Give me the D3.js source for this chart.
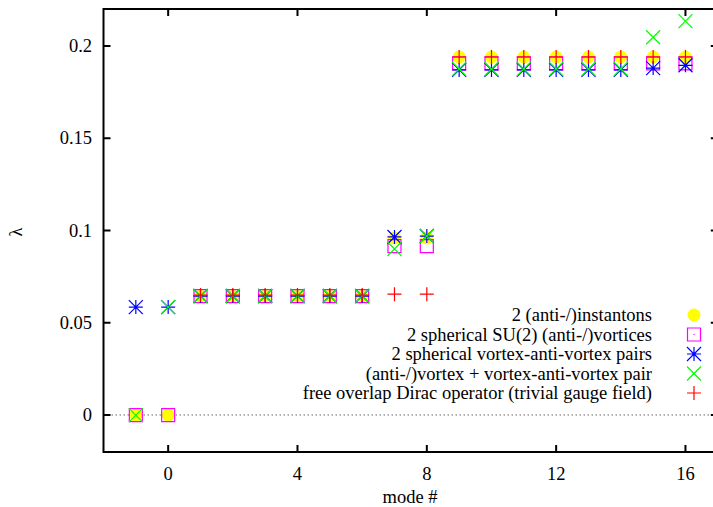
<!DOCTYPE html>
<html>
<head>
<meta charset="utf-8">
<script src="https://cdn.jsdelivr.net/npm/d3@7"></script>
<style>
  body { margin: 0; background: #fff; }
  svg text { font-family: "Liberation Serif", "DejaVu Serif", serif; font-size: 18.5px; fill: #000; }
</style>
</head>
<body>
<div id="chart"></div>
<script>
// mode numbers and lowest eigenvalues for each configuration
const modes = [-1, 0, 1, 2, 3, 4, 5, 6, 7, 8, 9, 10, 11, 12, 13, 14, 15, 16]
const freeModes = [1, 2, 3, 4, 5, 6, 7, 8, 9, 10, 11, 12, 13, 14, 15, 16]

const instantons = [0, 0, 0.0645, 0.0645, 0.0645, 0.0645, 0.0645, 0.0645, 0.096, 0.096,
  0.194, 0.194, 0.194, 0.194, 0.194, 0.194, 0.194, 0.194]
const sphericalVortices = [0, 0, 0.0645, 0.0645, 0.0645, 0.0645, 0.0645, 0.0645, 0.0915, 0.0915,
  0.1905, 0.1905, 0.1905, 0.1905, 0.1905, 0.1905, 0.1905, 0.1905]
const vortexPairs = [0.0585, 0.0585, 0.0645, 0.0645, 0.0645, 0.0645, 0.0645, 0.0645, 0.0965, 0.097,
  0.187, 0.187, 0.187, 0.187, 0.187, 0.187, 0.188, 0.1895]
const vortexPlusPair = [0, 0.0585, 0.0645, 0.0645, 0.0645, 0.0645, 0.0645, 0.0645, 0.090, 0.097,
  0.1875, 0.1875, 0.1875, 0.1875, 0.1875, 0.1875, 0.2047, 0.2134]
const freeOverlap = [0.065, 0.065, 0.065, 0.065, 0.065, 0.065, 0.0655, 0.0655,
  0.194, 0.194, 0.194, 0.194, 0.194, 0.194, 0.194, 0.194]

const xTicks = [0, 4, 8, 12, 16]
const yTicks = [0, 0.05, 0.1, 0.15, 0.2]

const series = [
  { label: "2 (anti-/)instantons", xs: modes, ys: instantons, shape: "circle", color: "#ffff00" },
  { label: "2 spherical SU(2) (anti-/)vortices", xs: modes, ys: sphericalVortices, shape: "square", color: "#ff00ff" },
  { label: "2 spherical vortex-anti-vortex pairs", xs: modes, ys: vortexPairs, shape: "star", color: "#0000ff" },
  { label: "(anti-/)vortex + vortex-anti-vortex pair", xs: modes, ys: vortexPlusPair, shape: "cross", color: "#00ff00" },
  { label: "free overlap Dirac operator (trivial gauge field)", xs: freeModes, ys: freeOverlap, shape: "plus", color: "#ff0000" },
]

const width = 713
const height = 507
const plotLeft = 103.5
const plotRight = 717.8
const plotTop = 9
const plotBottom = 452

const svg = d3.select("#chart")
  .append("svg")
  .attr("width", width)
  .attr("height", height)

const x = d3.scaleLinear().domain([-2, 17]).range([plotLeft, plotRight])
const y = d3.scaleLinear().domain([-0.02, 0.22]).range([plotBottom, plotTop])

// zero line
svg.append("line")
  .attr("x1", plotLeft).attr("x2", plotRight)
  .attr("y1", y(0)).attr("y2", y(0))
  .attr("stroke", "#999")
  .attr("stroke-width", 1.5)
  .attr("stroke-dasharray", "1.5,2.5")

// markers
const h = 7
function drawMarker(g, shape, color, cx, cy, legend) {
  if (shape === "circle") {
    g.append("circle").attr("cx", cx).attr("cy", cy).attr("r", 6.5).attr("fill", color)
    return
  }
  let d = ""
  if (shape === "square") {
    d = `M${cx - 6.5},${cy - 6.5}h13v13h-13z`
    if (legend) d += `M${cx},${cy - 0.5}v1`
  } else if (shape === "plus") {
    d = `M${cx - h},${cy}h${2 * h}M${cx},${cy - h}v${2 * h}`
  } else if (shape === "cross") {
    d = `M${cx - h},${cy - h}l${2 * h},${2 * h}M${cx - h},${cy + h}l${2 * h},${-2 * h}`
  } else if (shape === "star") {
    d = `M${cx - h},${cy}h${2 * h}M${cx},${cy - h}v${2 * h}` +
      `M${cx - h},${cy - h}l${2 * h},${2 * h}M${cx - h},${cy + h}l${2 * h},${-2 * h}`
  }
  g.append("path").attr("d", d).attr("fill", "none")
    .attr("stroke", color).attr("stroke-width", 1.2)
}

series.forEach((s) => {
  const g = svg.append("g")
  s.xs.forEach((m, i) => drawMarker(g, s.shape, s.color, x(m), y(s.ys[i]), false))
})

// frame and ticks (mirrored inward like gnuplot)
svg.append("rect")
  .attr("x", plotLeft).attr("y", plotTop)
  .attr("width", plotRight - plotLeft).attr("height", plotBottom - plotTop)
  .attr("fill", "none").attr("stroke", "#000").attr("stroke-width", 2)

const tl = 7
xTicks.forEach((t) => {
  svg.append("path")
    .attr("d", `M${x(t)},${plotBottom}v${-tl}M${x(t)},${plotTop}v${tl}`)
    .attr("stroke", "#000").attr("stroke-width", 2)
  svg.append("text")
    .attr("x", x(t)).attr("y", 480)
    .attr("text-anchor", "middle")
    .text(d3.format("d")(t))
})
yTicks.forEach((t) => {
  svg.append("path")
    .attr("d", `M${plotLeft},${y(t)}h${tl}M${plotRight},${y(t)}h${-tl}`)
    .attr("stroke", "#000").attr("stroke-width", 2)
  svg.append("text")
    .attr("x", 92).attr("y", y(t) + 6)
    .attr("text-anchor", "end")
    .text(String(t))
})

svg.append("text")
  .attr("x", 410).attr("y", 503)
  .attr("text-anchor", "middle")
  .text("mode #")

svg.append("text")
  .attr("transform", "translate(22,232) rotate(-90)")
  .attr("text-anchor", "middle")
  .text("λ")

// legend
series.forEach((s, i) => {
  const ly = 315 + i * 19.5
  svg.append("text")
    .attr("x", 652).attr("y", ly + 6)
    .attr("text-anchor", "end")
    .text(s.label)
  drawMarker(svg.append("g"), s.shape, s.color, 694, ly, true)
})
</script>
</body>
</html>
